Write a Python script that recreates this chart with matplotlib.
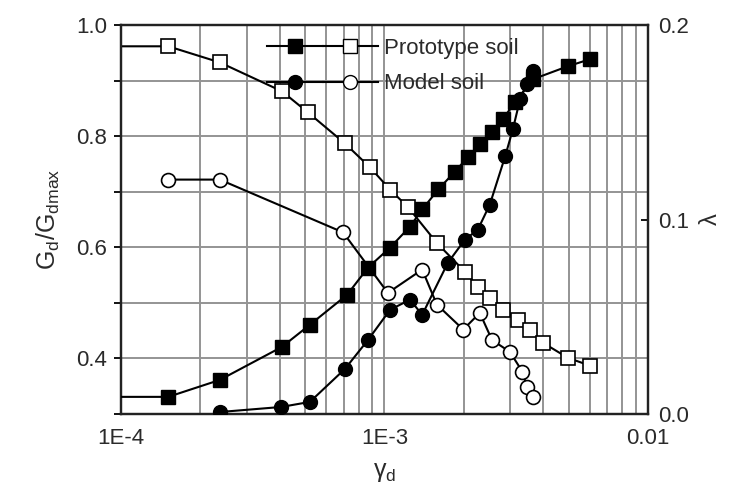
import matplotlib
matplotlib.use('Agg')
import matplotlib.pyplot as plt
from matplotlib.lines import Line2D
from matplotlib.legend_handler import HandlerTuple
from matplotlib.ticker import MultipleLocator, NullFormatter

plt.rcParams['font.family'] = ['Liberation Sans', 'DejaVu Sans']
plt.rcParams['mathtext.default'] = 'regular'

# shear strain amplitude and shear modulus ratio, prototype soil
proto_strain_g = [7e-5, 1.51e-4, 2.37e-4, 4.08e-4, 5.12e-4, 7.08e-4, 8.81e-4, 1.05e-3,
                  1.23e-3, 1.58e-3, 2.02e-3, 2.26e-3, 2.51e-3, 2.82e-3, 3.21e-3,
                  3.57e-3, 4.0e-3, 4.97e-3, 6.03e-3]
proto_g = [0.962, 0.962, 0.933, 0.881, 0.843, 0.787, 0.744, 0.704,
           0.672, 0.608, 0.556, 0.529, 0.509, 0.488, 0.470,
           0.452, 0.428, 0.401, 0.387]

# damping ratio, prototype soil
proto_strain_d = [7e-5, 1.51e-4, 2.37e-4, 4.08e-4, 5.21e-4, 7.21e-4, 8.66e-4, 1.05e-3,
                  1.25e-3, 1.39e-3, 1.60e-3, 1.85e-3, 2.07e-3, 2.30e-3, 2.56e-3,
                  2.81e-3, 3.12e-3, 3.66e-3, 4.97e-3, 6.03e-3]
proto_d = [0.0088, 0.0088, 0.0175, 0.0345, 0.0459, 0.0613, 0.0753, 0.0856,
           0.0964, 0.1052, 0.1155, 0.1247, 0.1320, 0.1387, 0.1448,
           0.1515, 0.1603, 0.1722, 0.1789, 0.1825]

# model soil
model_strain_g = [1.51e-4, 2.37e-4, 6.96e-4, 1.03e-3, 1.39e-3, 1.58e-3, 1.99e-3,
                  2.30e-3, 2.56e-3, 2.99e-3, 3.34e-3, 3.47e-3, 3.66e-3]
model_g = [0.722, 0.722, 0.627, 0.518, 0.560, 0.497, 0.452,
           0.482, 0.433, 0.412, 0.376, 0.349, 0.331]

model_strain_d = [2.37e-4, 4.05e-4, 5.21e-4, 7.08e-4, 8.66e-4, 1.05e-3, 1.25e-3,
                  1.39e-3, 1.74e-3, 2.02e-3, 2.26e-3, 2.51e-3, 2.87e-3, 3.07e-3,
                  3.27e-3, 3.47e-3, 3.66e-3]
model_d = [0.001, 0.0036, 0.0062, 0.0232, 0.0381, 0.0536, 0.0588,
           0.051, 0.0778, 0.0897, 0.0948, 0.1077, 0.1325, 0.1464,
           0.1619, 0.1696, 0.1763]

x_ticks = [1e-4, 1e-3, 1e-2]
x_tick_labels = ['1E-4', '1E-3', '0.01']
g_ticks = [0.4, 0.6, 0.8, 1.0]
d_ticks = [0.0, 0.1, 0.2]

txt = '#2a2a2a'
fig = plt.figure(figsize=(7.38, 4.94), dpi=100)
ax1 = fig.add_axes([0.164, 0.162, 0.714, 0.787])
ax2 = ax1.twinx()

ax1.set_xscale('log')
ax1.set_xlim(1e-4, 1e-2)
ax1.set_ylim(0.3, 1.0)
ax2.set_ylim(0.0, 0.2)

ax1.yaxis.set_minor_locator(MultipleLocator(0.1))
ax1.set_axisbelow(True)
ax1.grid(True, which='both', color='0.58', lw=1.4)

ms = 10
ax1.plot(proto_strain_g, proto_g, color='k', lw=1.5, marker='s', ms=ms,
         mfc='white', mec='k', mew=1.2, zorder=3)
ax1.plot(model_strain_g, model_g, color='k', lw=1.5, marker='o', ms=ms,
         mfc='white', mec='k', mew=1.2, zorder=3)
ax2.plot(proto_strain_d, proto_d, color='k', lw=1.5, marker='s', ms=ms,
         mfc='k', mec='k', zorder=3)
ax2.plot(model_strain_d, model_d, color='k', lw=1.5, marker='o', ms=ms,
         mfc='k', mec='k', zorder=3)

ax1.set_xticks(x_ticks)
ax1.set_xticklabels(x_tick_labels)
ax1.xaxis.set_minor_formatter(NullFormatter())
ax1.set_yticks(g_ticks)
ax1.set_yticklabels(['%.1f' % v for v in g_ticks])
ax2.set_yticks(d_ticks)
ax2.set_yticklabels(['%.1f' % v for v in d_ticks])

ax1.tick_params(axis='x', which='both', direction='in', length=0, pad=10,
                labelsize=16, labelcolor=txt)
ax1.tick_params(axis='y', which='both', direction='out', length=5, width=1.3,
                pad=5, labelsize=16, labelcolor=txt)
ax2.tick_params(axis='y', direction='in', length=5, width=1.3, pad=7,
                labelsize=16, labelcolor=txt)

for a in (ax1, ax2):
    for s in a.spines.values():
        s.set_linewidth(1.6)
        s.set_color('#222222')

ax1.set_ylabel('G$_d$/G$_{dmax}$', fontsize=18, color=txt, labelpad=10)
ax2.set_ylabel(r'$\lambda$', fontsize=17, color=txt, labelpad=8)
ax1.set_xlabel(r'$\gamma_d$', fontsize=18, color=txt, labelpad=8)

h_proto = (Line2D([], [], color='k', lw=1.5, marker='s', ms=ms, mfc='k', mec='k'),
           Line2D([], [], color='k', lw=1.5, marker='s', ms=ms, mfc='white', mec='k'))
h_model = (Line2D([], [], color='k', lw=1.5, marker='o', ms=ms, mfc='k', mec='k'),
           Line2D([], [], color='k', lw=1.5, marker='o', ms=ms, mfc='white', mec='k'))
leg = fig.legend([h_proto, h_model], ['Prototype soil', 'Model soil'],
                 handler_map={tuple: HandlerTuple(ndivide=None, pad=0)},
                 loc='upper left', bbox_to_anchor=(267 / 738, 1 - 38 / 494),
                 frameon=False, fontsize=16, handlelength=5.0, handletextpad=0.25,
                 labelspacing=0.65, borderpad=0, borderaxespad=0, numpoints=1)
for t in leg.get_texts():
    t.set_color(txt)

fig.savefig('out.png', dpi=100)
